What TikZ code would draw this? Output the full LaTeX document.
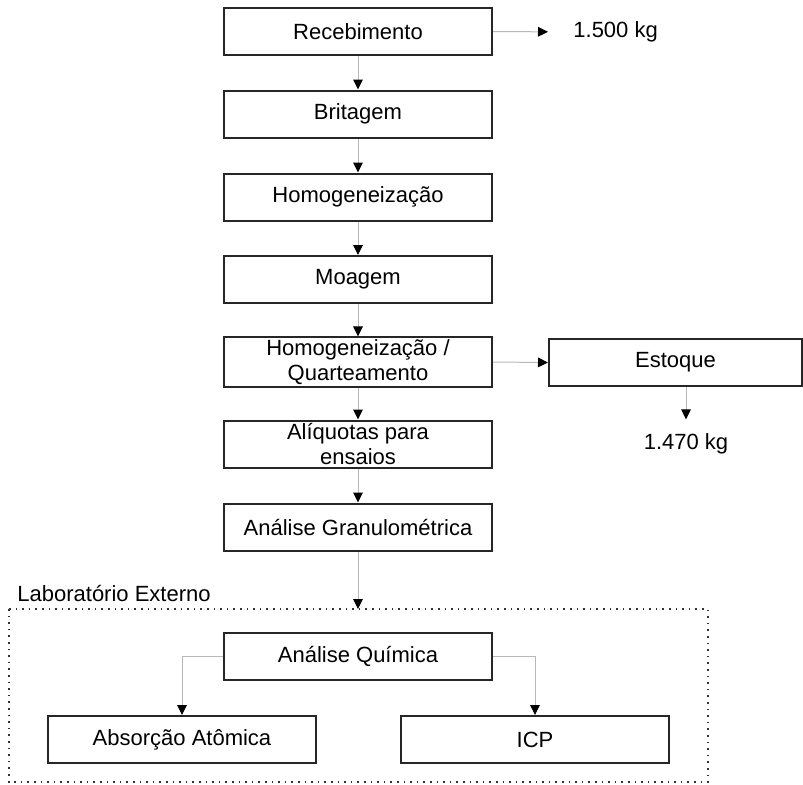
\documentclass[tikz,border=0pt]{standalone}
\usepackage{fontspec}
\setmainfont{Liberation Sans}
\usetikzlibrary{arrows.meta}

\begin{document}
\begin{tikzpicture}[x=0.5pt,y=-0.5pt,
		caixa/.style={draw=black!85,line width=1pt,minimum width=134pt,minimum height=23.5pt,inner sep=1pt,align=center,font=\fontsize{11}{12.5}\selectfont},
		fluxo/.style={draw=black!28,line width=0.5pt,-{Triangle[black,length=5pt,width=4.8pt]}},
		rotulo/.style={inner sep=0pt,font=\fontsize{11}{13}\selectfont}]
			\useasboundingbox (0,0) rectangle (803,784);
			% coluna principal
			\coordinate (P1) at (358,31.5);
			\coordinate (P2) at (358,114);
			\coordinate (P3) at (358,197);
			\coordinate (P4) at (358,279.5);
			\coordinate (P5) at (358,362);
			\coordinate (P6) at (358,444);
			\coordinate (P7) at (358,527);
			\node[caixa] (receb) at (P1) {Recebimento};
			\node[caixa] (brit) at (P2) {Britagem};
			\node[caixa] (homog) at (P3) {Homogeneização};
			\node[caixa] (moag) at (P4) {Moagem};
			\node[caixa] (quart) at (P5) {Homogeneização /\\Quarteamento};
			\node[caixa] (aliq) at (P6) {Alíquotas para\\ensaios};
			\node[caixa] (granul) at (P7) {Análise Granulométrica};
			\draw[fluxo] (receb) to (brit);
			\draw[fluxo] (brit) to (homog);
			\draw[fluxo] (homog) to (moag);
			\draw[fluxo] (moag) to (quart);
			\draw[fluxo] (quart) to (aliq);
			\draw[fluxo] (aliq) to (granul);
			% massas e estoque
			\node[rotulo,anchor=west] (kg1500) at (573,32) {1.500 kg};
			\draw[fluxo,shorten >=12.5pt] (receb.east) to (kg1500.west);
			\node[caixa,minimum width=126.5pt] (estoque) at (675.5,362.5) {Estoque};
			\draw[fluxo] (quart.east) to (estoque.west);
			\node[rotulo] (kg1470) at (686,444) {1.470 kg};
			\draw[fluxo,shorten >=7pt] (kg1470.north |- estoque.south) to (kg1470.north);
			% laboratorio externo
			\coordinate (L1) at (9,609);
			\coordinate (L2) at (708,782);
			\draw[black!80,line width=0.8pt,dash pattern=on 0.8pt off 2.5pt] (L1) rectangle (L2);
			\node[rotulo,anchor=west] (lab) at (17,593) {Laboratório Externo};
			\draw[fluxo] (granul.south) to (granul.south |- L1);
			\node[caixa] (quim) at (358,656) {Análise Química};
			\node[caixa] (absor) at (182,739.5) {Absorção Atômica};
			\node[caixa] (icp) at (535,739.5) {ICP};
			\draw[fluxo] (quim.west) -| (absor.north);
			\draw[fluxo] (quim.east) -| (icp.north);
		\end{tikzpicture}
\end{document}
